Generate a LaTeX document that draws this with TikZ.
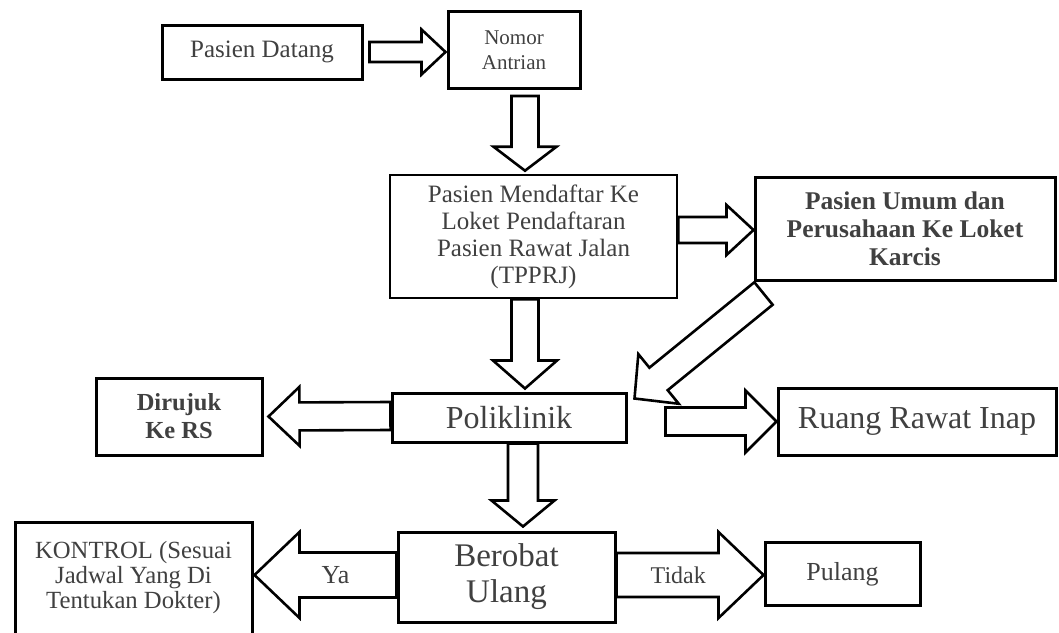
\documentclass[tikz,border=0pt]{standalone}
\usepackage{fontspec}
\setmainfont{Liberation Serif}
\pgfdeclarelayer{background}
\pgfsetlayers{background,main}
\usetikzlibrary{calc}
\newcommand{\BlockArrow}[5]%
% start, end, shaft half width, head half width, head length
{ \begin{pgfonlayer}{background}
    \coordinate (neck) at ($(#2)!#5!(#1)$);
    \draw[blockarrow]
      ($(#1)!#3!90:(#2)$) -- ($(neck)!#3!90:(#2)$) -- ($(neck)!#4!90:(#2)$)
      -- (#2) -- ($(neck)!#4!-90:(#2)$) -- ($(neck)!#3!-90:(#2)$)
      -- ($(#1)!#3!-90:(#2)$) -- cycle;
  \end{pgfonlayer}
}

\begin{document}
\begin{tikzpicture}
[   x=1pt, y=-1pt,
    box/.style={draw, line width=3pt, inner sep=0, align=center, text=black!75},
    blockarrow/.style={draw, fill=white, line width=2.6pt, line join=miter},
    lbl/.style={text=black!75, inner sep=0}
]
    \useasboundingbox (0,0) rectangle (1059,632);

    \node[box, minimum width=200, minimum height=54,
          font=\fontsize{25}{27}\selectfont] (datang) at (262,52) {Pasien Datang};
    \node[box, minimum width=132, minimum height=77,
          font=\fontsize{21}{25}\selectfont] (nomor) at (514,50) {Nomor\\Antrian};
    \node[box, line width=2.6pt, minimum width=287, minimum height=123,
          font=\fontsize{25}{27}\selectfont] (tpprj) at (533.5,236.5)
          {Pasien Mendaftar Ke\\Loket Pendaftaran\\Pasien Rawat Jalan\\(TPPRJ)};
    \node[box, minimum width=300, minimum height=103,
          font=\bfseries\fontsize{25.5}{28}\selectfont] (umum) at (905,228.5)
          {Pasien Umum dan\\Perusahaan Ke Loket\\Karcis};
    \node[box, minimum width=234, minimum height=49,
          font=\fontsize{32}{34}\selectfont] (poli) at (509,417.5) {Poliklinik};
    \node[box, minimum width=278, minimum height=67,
          font=\fontsize{32}{34}\selectfont] (ruang) at (917,421.5) {Ruang Rawat Inap};
    \node[box, minimum width=166, minimum height=77,
          font=\bfseries\fontsize{24.5}{28}\selectfont] (dirujuk) at (179,416.5) {Dirujuk\\Ke RS};
    \node[box, minimum width=217, minimum height=90,
          font=\fontsize{33}{36}\selectfont] (berobat) at (506.5,577) {Berobat\\Ulang};
    \node[box, minimum width=237, minimum height=112,
          font=\fontsize{24.7}{25}\selectfont] (kontrol) at (133.5,578)
          {KONTROL (Sesuai\\Jadwal Yang Di\\Tentukan Dokter)};
    \node[box, minimum width=155, minimum height=63,
          font=\fontsize{26}{28}\selectfont] (pulang) at (842.5,574) {Pulang};

    % arrow ends
    \coordinate (a1s) at ($(datang.east)+(6,0)$);
    \coordinate (a1e) at ($(nomor.west)+(-1,2)$);
    \coordinate (a2s) at ($(nomor.south)+(11,6)$);
    \coordinate (a2e) at ($(tpprj.north)+(-8.5,-3)$);
    \coordinate (a3s) at ($(tpprj.east)+(0,-6.5)$);
    \coordinate (a3e) at ($(umum.west)+(0,1.5)$);
    \coordinate (a4s) at ($(tpprj.south)+(-8.5,0)$);
    \coordinate (a4e) at ($(poli.north)+(16,-3)$);
    \coordinate (a5s) at ($(umum.south west)+(10,12)$);
    \coordinate (junction) at ($(poli.north east)+(7,7)$);
    \coordinate (a6s) at ($(ruang.west)+(-111,0)$);
    \coordinate (a7s) at ($(poli.west)+(0,-1.5)$);
    \coordinate (a7e) at ($(dirujuk.east)+(5,0)$);
    \coordinate (a8s) at ($(poli.south)+(14,0)$);
    \coordinate (a8e) at ($(berobat.north)+(16.5,-4)$);
    \coordinate (a9s) at ($(berobat.west)+(0,-2)$);
    \coordinate (a9e) at ($(kontrol.east)+(1,-3)$);
    \coordinate (a10s) at ($(berobat.east)+(0,-2)$);
    \coordinate (a10e) at ($(pulang.west)+(0,1)$);

    \BlockArrow{a1s}{a1e}{10pt}{22.5pt}{24pt}
    \BlockArrow{a2s}{a2e}{13.5pt}{31.5pt}{24pt}
    \BlockArrow{a3s}{a3e}{13pt}{25pt}{27pt}
    \BlockArrow{a4s}{a4e}{13.5pt}{32pt}{28pt}
    \BlockArrow{a5s}{junction}{14.5pt}{32pt}{31pt}
    \BlockArrow{a6s}{ruang.west}{14pt}{31pt}{31pt}
    \BlockArrow{a7s}{a7e}{14pt}{29.5pt}{31pt}
    \BlockArrow{a8s}{a8e}{15pt}{31.5pt}{26pt}
    \BlockArrow{a9s}{a9e}{22.5pt}{43pt}{45pt}
    \BlockArrow{a10s}{a10e}{22pt}{43pt}{45pt}

    \node[lbl, font=\fontsize{26}{28}\selectfont] (ya) at ($(a9s)!0.43!(a9e)$) {Ya};
    \node[lbl, font=\fontsize{24}{26}\selectfont] (tidak) at ($(a10s)!0.42!(a10e)$) {Tidak};
\end{tikzpicture}
\end{document}
